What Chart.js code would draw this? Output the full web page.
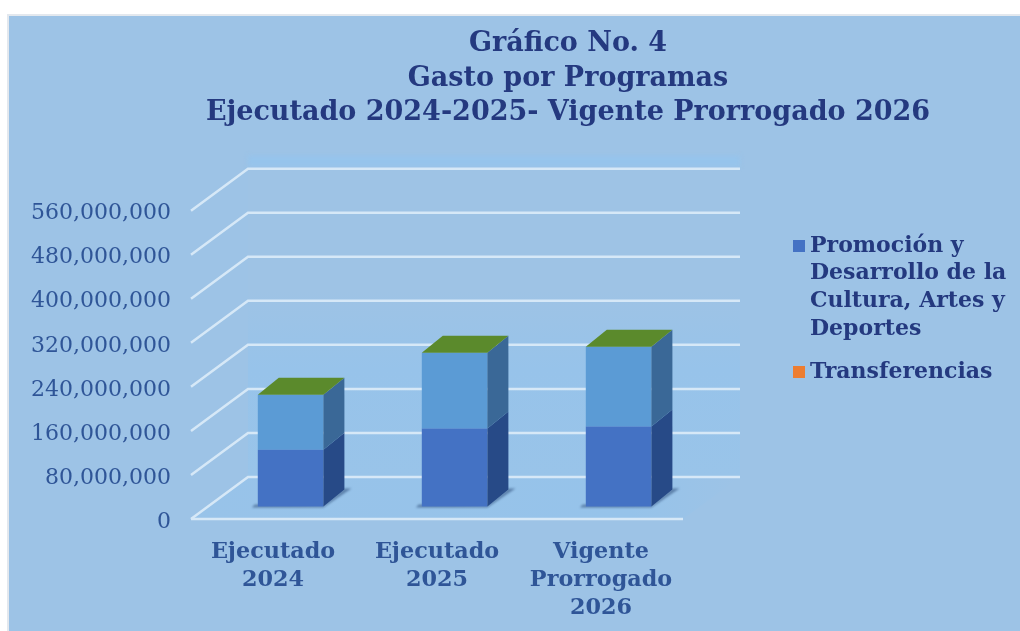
<!DOCTYPE html>
<html>
<head>
<meta charset="utf-8">
<script src="https://cdn.jsdelivr.net/npm/chart.js@4/dist/chart.umd.min.js"></script>
<style>
    html, body { margin: 0; padding: 0; background: #fff; overflow: hidden; }
    #wrap { position: absolute; left: 0; top: 0; width: 1020px; height: 631px; }
</style>
</head>
<body>
<div id="wrap"><canvas id="chart" width="1020" height="631"></canvas></div>
<script>
const titleLines = ['Gráfico No. 4', 'Gasto por Programas', 'Ejecutado 2024-2025- Vigente Prorrogado 2026'];
const categories = [['Ejecutado', '2024'], ['Ejecutado', '2025'], ['Vigente', 'Prorrogado', '2026']];
const yTicks = [0, 80000000, 160000000, 240000000, 320000000, 400000000, 480000000, 560000000];

const promocion = [103000000, 141500000, 145000000];
const segundoTramo = [100000000, 137500000, 145000000];
const transferencias = [0, 0, 0];
const tope = [0, 0, 0];

const promocionLegend = ['Promoción y', 'Desarrollo de la', 'Cultura, Artes y', 'Deportes'];
const transferenciasLegend = ['Transferencias'];

const navy = '#24397f';
const axisBlue = '#2f5597';
const gridColor = '#d6e8f7';
const serif = '"DejaVu Serif", serif';

// one receding floor edge of the 3D box, and where the bars stand along it
const depth = { x: 57, y: -42 };
const barOffset = 0.3;
const barSide = { x: 21, y: -17 };
// the tick labels sit a little under their grid lines in the original
const lift = 3;

function sideColor(i) {
    return ['#274a87', '#3a6897', '#274a87', '#274a87'][i];
}

const panel = {
    id: 'panel',
    beforeDraw(c) {
        const ctx = c.ctx;
        ctx.save();
        ctx.fillStyle = '#fff';
        ctx.fillRect(0, 0, c.width, c.height);
        ctx.fillStyle = '#e3e8ee';
        ctx.fillRect(7, 14, c.width - 7, c.height - 14);
        ctx.fillStyle = '#9dc3e6';
        ctx.fillRect(9, 16, c.width - 9, c.height - 16);
        ctx.restore();
    }
};

const box3d = {
    id: 'box3d',
    afterLayout(c) {
        // the title sits centred over the plot and legend, not the canvas
        c.titleBlock.left = 116;
        c.titleBlock.right = 1020;
    },
    beforeDatasetsDraw(c) {
        const ctx = c.ctx;
        const a = c.chartArea;
        const y = c.scales.y;
        const y0 = y.getPixelForValue(0) - lift;
        ctx.save();

        // lighter band above the wall
        const topY = y.getPixelForValue(yTicks[yTicks.length - 1]) - lift + depth.y;
        ctx.fillStyle = '#96c4ec';
        ctx.filter = 'blur(2px)';
        ctx.fillRect(a.left + depth.x, topY - 13, a.right - a.left, 11);
        ctx.filter = 'none';

        // floor, fading out towards the right
        const floor = ctx.createLinearGradient(a.left, 0, a.right + depth.x, 0);
        floor.addColorStop(0, '#98c3e9');
        floor.addColorStop(0.8, '#96c3ea');
        floor.addColorStop(1, '#9dc3e6');
        ctx.fillStyle = floor;
        ctx.beginPath();
        ctx.moveTo(a.left, y0);
        ctx.lineTo(a.left + depth.x, y0 + depth.y);
        ctx.lineTo(a.right + depth.x, y0 + depth.y);
        ctx.lineTo(a.right, y0);
        ctx.closePath();
        ctx.fill();

        // back wall bands
        const wall = ctx.createLinearGradient(0, topY, 0, y0 + depth.y);
        wall.addColorStop(0, '#9ec3e5');
        wall.addColorStop(0.4, '#9ec3e5');
        wall.addColorStop(0.65, '#97c3ea');
        wall.addColorStop(1, '#99c4e9');
        ctx.fillStyle = wall;
        ctx.fillRect(a.left + depth.x, topY, a.right - a.left, y0 + depth.y - topY);

        // grid lines: side wall diagonal, then along the back wall
        ctx.strokeStyle = gridColor;
        ctx.lineWidth = 2.5;
        ctx.filter = 'blur(0.5px)';
        yTicks.forEach(v => {
            const py = y.getPixelForValue(v) - lift;
            ctx.beginPath();
            ctx.moveTo(a.left, py);
            ctx.lineTo(a.left + depth.x, py + depth.y);
            ctx.lineTo(a.right + depth.x, py + depth.y);
            ctx.stroke();
        });
        ctx.beginPath();
        ctx.moveTo(a.left, y0);
        ctx.lineTo(a.right, y0);
        ctx.stroke();
        ctx.filter = 'none';

        // bars stand part way back on the floor
        const dx = depth.x * barOffset + 0.5;
        const dy = depth.y * barOffset - lift;

        // shadows on the floor
        ctx.fillStyle = 'rgba(52, 84, 128, 0.6)';
        ctx.filter = 'blur(1px)';
        c.getDatasetMeta(0).data.forEach(bar => {
            const l = bar.x - bar.width / 2 + dx;
            const r = bar.x + bar.width / 2 + dx;
            const b = bar.base + dy;
            ctx.beginPath();
            ctx.moveTo(l - 6, b + 1);
            ctx.lineTo(r, b + 1);
            ctx.lineTo(r + barSide.x + 7, b + barSide.y - 1);
            ctx.lineTo(r + barSide.x, b + barSide.y - 1);
            ctx.lineTo(r, b - 1);
            ctx.lineTo(l - 3, b - 2);
            ctx.closePath();
            ctx.fill();
        });
        ctx.filter = 'none';
        ctx.restore();

        ctx.save();
        ctx.translate(dx, dy);
    },
    afterDatasetsDraw(c) {
        const ctx = c.ctx;
        const sx = barSide.x;
        const sy = barSide.y;

        c.data.datasets.forEach((ds, i) => {
            c.getDatasetMeta(i).data.forEach(bar => {
                const r = bar.x + bar.width / 2;
                const l = bar.x - bar.width / 2;
                if (bar.base - bar.y > 0) {
                    ctx.fillStyle = sideColor(i);
                    ctx.beginPath();
                    ctx.moveTo(r, bar.base);
                    ctx.lineTo(r + sx, bar.base + sy);
                    ctx.lineTo(r + sx, bar.y + sy);
                    ctx.lineTo(r, bar.y);
                    ctx.closePath();
                    ctx.fill();
                }
                if (i === c.data.datasets.length - 1) {
                    // last series has no height: only its lid shows
                    ctx.fillStyle = ds.backgroundColor;
                    ctx.beginPath();
                    ctx.moveTo(l, bar.y);
                    ctx.lineTo(l + sx, bar.y + sy);
                    ctx.lineTo(r + sx, bar.y + sy);
                    ctx.lineTo(r, bar.y);
                    ctx.closePath();
                    ctx.fill();
                }
            });
        });
        ctx.restore();
    }
};

const legend3d = {
    id: 'legend3d',
    afterDraw(c) {
        const ctx = c.ctx;
        ctx.save();
        ctx.font = 'bold 22px ' + serif;
        ctx.textBaseline = 'middle';
        const items = [
            { lines: promocionLegend, color: c.data.datasets[0].backgroundColor, y: 246 },
            { lines: transferenciasLegend, color: c.data.datasets[2].backgroundColor, y: 372 }
        ];
        items.forEach(item => {
            ctx.fillStyle = item.color;
            ctx.fillRect(793, item.y - 6, 12, 12);
            ctx.fillStyle = navy;
            item.lines.forEach((t, i) => ctx.fillText(t, 810, item.y + i * 27.6));
        });
        ctx.restore();
    }
};

new Chart(document.getElementById('chart'), {
    type: 'bar',
    data: {
        labels: categories,
        datasets: [
            { label: promocionLegend.join(' '), data: promocion, backgroundColor: '#4472c4' },
            { label: 'Sin nombre', data: segundoTramo, backgroundColor: '#5b9bd5' },
            { label: transferenciasLegend[0], data: transferencias, backgroundColor: '#ed7d31' },
            { label: 'Tope', data: tope, backgroundColor: '#5b8a2c' }
        ]
    },
    options: {
        responsive: false,
        animation: false,
        layout: { autoPadding: false, padding: { left: 191 - 170, right: 1020 - 683, top: 0, bottom: 0 } },
        datasets: { bar: { categoryPercentage: 1, barPercentage: 0.4, borderWidth: 0, clip: false } },
        plugins: {
            legend: { display: false },
            tooltip: { enabled: false },
            title: {
                display: true,
                text: titleLines,
                color: navy,
                font: { family: serif, size: 27, weight: 'bold', lineHeight: 1.28 },
                padding: { top: 27, bottom: 83 }
            }
        },
        scales: {
            x: {
                stacked: true,
                grid: { display: false },
                border: { display: false },
                afterFit(s) { s.height = 631 - 522; },
                ticks: {
                    color: axisBlue,
                    maxRotation: 0,
                    autoSkip: false,
                    padding: 8,
                    font: { family: serif, size: 22.3, weight: 'bold', lineHeight: 1.26 }
                }
            },
            y: {
                stacked: true,
                min: 0,
                max: yTicks[yTicks.length - 1],
                grid: { display: false },
                border: { display: false },
                afterFit(s) { s.width = 170; },
                afterBuildTicks(s) { s.ticks = yTicks.map(v => ({ value: v })); },
                ticks: {
                    color: axisBlue,
                    padding: 12,
                    font: { family: serif, size: 22 },
                    callback: v => v.toLocaleString('en-US')
                }
            }
        }
    },
    plugins: [panel, box3d, legend3d]
});
</script>
</body>
</html>
